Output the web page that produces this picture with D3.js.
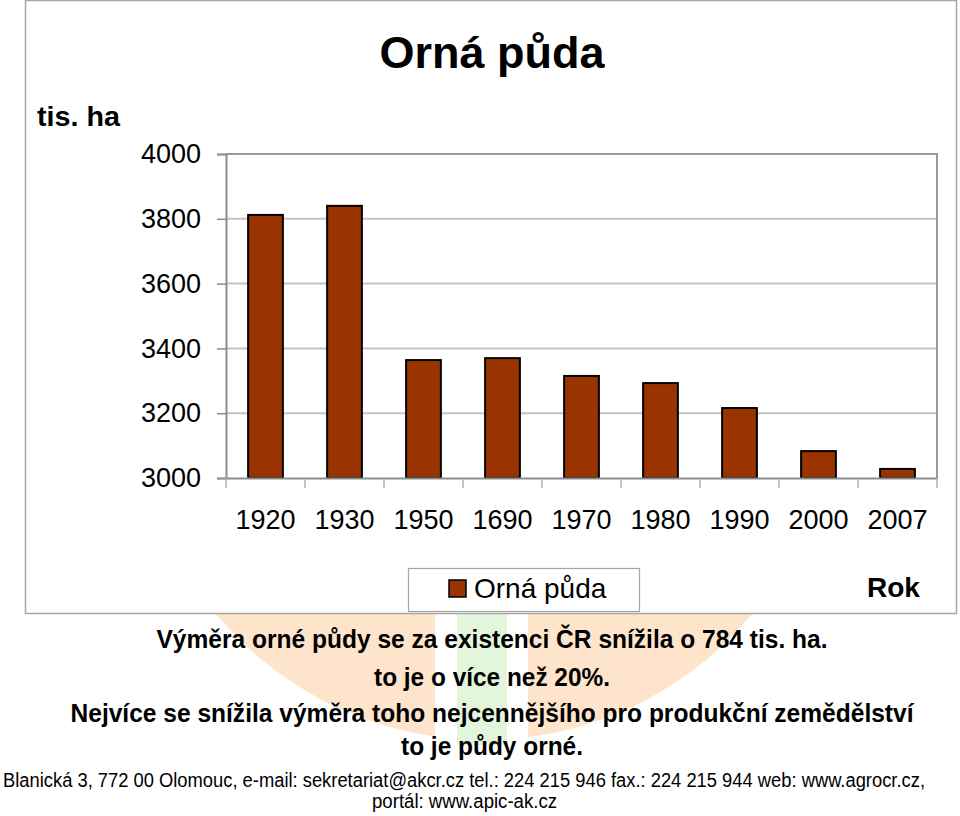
<!doctype html>
<html>
  <head>
    <meta charset="utf-8">
    <title>Orná půda</title>
    <script src="https://cdn.jsdelivr.net/npm/d3@7"></script>
    <style>
      body { margin: 0; background: #fff; }
      svg { display: block; font-family: "Liberation Sans", Arial, sans-serif; }
    </style>
  </head>
  <body>
    <svg id="chart" width="960" height="816"></svg>
    <script>
      // data
      var years = ['1920', '1930', '1950', '1690', '1970', '1980', '1990', '2000', '2007'];
      var arableLand = [3812, 3840, 3364, 3370, 3315, 3293, 3216, 3083, 3028];
      var yTicks = [3000, 3200, 3400, 3600, 3800, 4000];

      var notes = [
        'Výměra orné půdy se za existenci ČR snížila o 784 tis. ha.',
        'to je o více než 20%.',
        'Nejvíce se snížila výměra toho nejcennějšího pro produkční zemědělství',
        'to je půdy orné.'
      ];
      var address = [
        'Blanická 3, 772 00 Olomouc, e-mail: sekretariat@akcr.cz tel.: 224 215 946 fax.: 224 215 944 web: www.agrocr.cz,',
        'portál: www.apic-ak.cz'
      ];

      var svg = d3.select('#chart');
      var barColor = '#993300';

      // faint logo behind the text
      var logo = svg.append('g');
      logo.append('circle')
        .attr('cx', 484).attr('cy', 392).attr('r', 348)
        .attr('fill', '#fde4cb');
      logo.append('rect').attr('x', 435).attr('y', 600).attr('width', 93).attr('height', 145).attr('fill', '#fff');
      logo.append('rect').attr('x', 457).attr('y', 600).attr('width', 50).attr('height', 145).attr('fill', '#e3f6dc');

      // chart box
      svg.append('rect')
        .attr('x', 25.5).attr('y', 0.5).attr('width', 931).attr('height', 613)
        .attr('fill', '#fff').attr('stroke', '#a6a6a6').attr('stroke-width', 1.5);

      var plotLeft = 226, plotRight = 937, plotTop = 154, plotBottom = 478;

      var x = d3.scaleBand().domain(years).range([plotLeft, plotRight]);
      var y = d3.scaleLinear().domain([3000, 4000]).range([plotBottom, plotTop]);

      // gridlines
      svg.append('g')
        .selectAll('line')
        .data(yTicks.slice(1, -1))
        .enter()
        .append('line')
        .attr('x1', plotLeft).attr('x2', plotRight)
        .attr('y1', function (d) { return y(d); })
        .attr('y2', function (d) { return y(d); })
        .attr('stroke', '#c4c4c4').attr('stroke-width', 2);

      // plot frame top / right
      svg.append('path')
        .attr('d', 'M' + plotLeft + ',' + plotTop + 'H' + plotRight + 'V' + plotBottom)
        .attr('fill', 'none').attr('stroke', '#9a9a9a').attr('stroke-width', 2);

      // bars
      var barWidth = x.bandwidth() * 0.44;
      svg.append('g')
        .selectAll('rect')
        .data(arableLand)
        .enter()
        .append('rect')
        .attr('x', function (d, i) { return x(years[i]) + (x.bandwidth() - barWidth) / 2; })
        .attr('y', function (d) { return y(d); })
        .attr('width', barWidth)
        .attr('height', function (d) { return plotBottom - y(d); })
        .attr('fill', barColor)
        .attr('stroke', '#000')
        .attr('stroke-width', 2);

      // y axis
      var yAxis = svg.append('g')
        .attr('transform', 'translate(' + plotLeft + ',0)')
        .call(d3.axisLeft(y).tickValues(yTicks).tickFormat(d3.format('d')).tickSize(9).tickPadding(16));
      yAxis.selectAll('text').attr('font-size', 27).attr('fill', '#000').attr('font-family', 'Liberation Sans, Arial, sans-serif');

      // x axis, ticks between categories
      var xAxis = svg.append('g')
        .attr('transform', 'translate(0,' + plotBottom + ')')
        .call(d3.axisBottom(x).tickSize(0).tickPadding(32));
      xAxis.selectAll('text').attr('font-size', 27).attr('fill', '#000').attr('font-family', 'Liberation Sans, Arial, sans-serif');
      xAxis.selectAll('.tick line').remove();
      xAxis.append('g')
        .selectAll('line')
        .data(years.concat(['end']))
        .enter()
        .append('line')
        .attr('x1', function (d, i) { return plotLeft + i * x.bandwidth(); })
        .attr('x2', function (d, i) { return plotLeft + i * x.bandwidth(); })
        .attr('y1', 0).attr('y2', 10)
        .attr('stroke', '#b0b0b0').attr('stroke-width', 1.5);

      svg.selectAll('.domain').attr('stroke', '#8c8c8c').attr('stroke-width', 2);
      yAxis.selectAll('.tick line').attr('stroke', '#8c8c8c').attr('stroke-width', 1.5);

      // title and axis names
      svg.append('text')
        .attr('x', 492).attr('y', 68)
        .attr('text-anchor', 'middle')
        .attr('font-size', 45).attr('font-weight', 'bold')
        .text('Orná půda');

      svg.append('text')
        .attr('x', 37).attr('y', 126)
        .attr('font-size', 28).attr('font-weight', 'bold')
        .attr('textLength', 83).attr('lengthAdjust', 'spacingAndGlyphs')
        .text('tis. ha');

      svg.append('text')
        .attr('x', 867).attr('y', 597)
        .attr('font-size', 28).attr('font-weight', 'bold')
        .text('Rok');

      // legend
      var legend = svg.append('g');
      legend.append('rect')
        .attr('x', 408.5).attr('y', 568.5).attr('width', 231).attr('height', 43)
        .attr('fill', '#fff').attr('stroke', '#a6a6a6').attr('stroke-width', 1.2);
      legend.append('rect')
        .attr('x', 449).attr('y', 580).attr('width', 17).attr('height', 17)
        .attr('fill', barColor).attr('stroke', '#000').attr('stroke-width', 1.5);
      legend.append('text')
        .attr('x', 474).attr('y', 598)
        .attr('font-size', 28)
        .text('Orná půda');

      // notes under the chart
      var noteBase = [648, 686, 722, 755];
      var noteWidth = [671, 236, 843, 182];
      svg.append('g')
        .selectAll('text')
        .data(notes)
        .enter()
        .append('text')
        .attr('x', 492)
        .attr('y', function (d, i) { return noteBase[i]; })
        .attr('text-anchor', 'middle')
        .attr('font-size', 25).attr('font-weight', 'bold')
        .attr('textLength', function (d, i) { return noteWidth[i]; })
        .attr('lengthAdjust', 'spacingAndGlyphs')
        .text(function (d) { return d; });

      var addrBase = [787, 808];
      var addrWidth = [922, 185];
      svg.append('g')
        .selectAll('text')
        .data(address)
        .enter()
        .append('text')
        .attr('x', function (d, i) { return i === 0 ? 3 : 372; })
        .attr('y', function (d, i) { return addrBase[i]; })
        .attr('font-size', 19.5)
        .attr('textLength', function (d, i) { return addrWidth[i]; })
        .attr('lengthAdjust', 'spacingAndGlyphs')
        .text(function (d) { return d; });
    </script>
  </body>
</html>
